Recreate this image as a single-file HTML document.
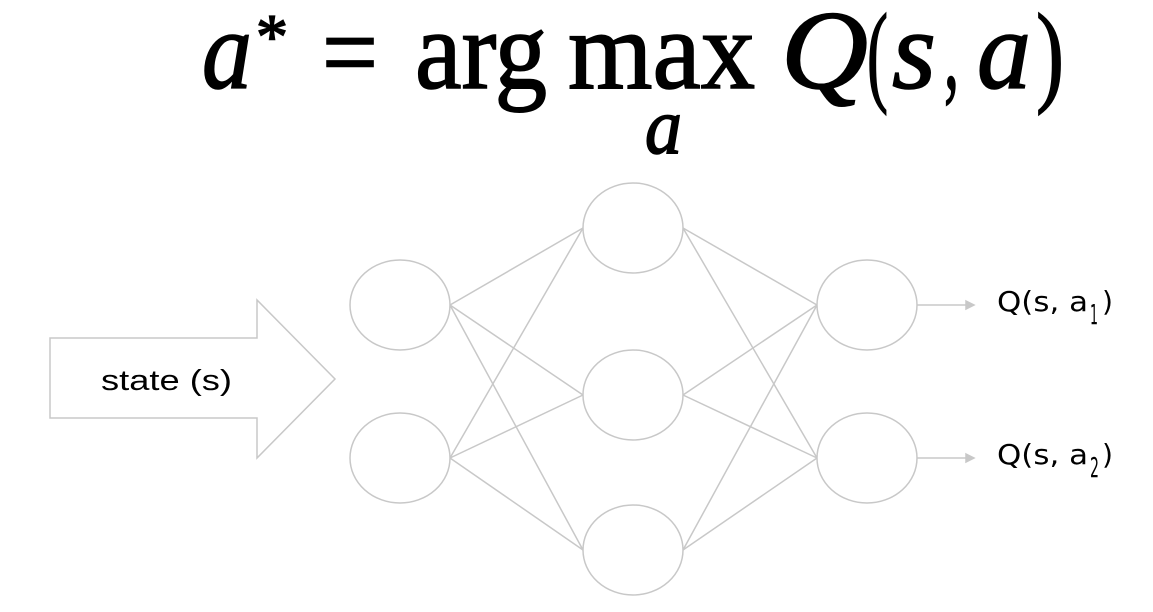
<!DOCTYPE html>
<html><head><meta charset="utf-8"><style>
html,body{margin:0;padding:0;background:#fff;}
svg{display:block;}
.f{font-family:"Liberation Serif",serif;fill:#000;stroke:#000;stroke-width:1.6;}
.s{font-family:"DejaVu Sans","Liberation Sans",sans-serif;fill:#000;font-size:28px;}
.st{font-family:"Liberation Sans",sans-serif;fill:#000;font-size:29px;}
</style></head><body>
<svg width="1153" height="612" viewBox="0 0 1153 612">
<g>
<text class="f" x="202" y="88" font-size="112" font-style="italic" textLength="50" lengthAdjust="spacingAndGlyphs">a</text>
<text class="f" x="256" y="58" font-size="64">*</text>
<text class="f" x="322" y="90" font-size="112" textLength="56" lengthAdjust="spacingAndGlyphs">=</text>
<text class="f" x="415" y="88" font-size="112" textLength="132" lengthAdjust="spacingAndGlyphs">arg</text>
<text class="f" x="568" y="88" font-size="112" textLength="187" lengthAdjust="spacingAndGlyphs">max</text>
<text class="f" x="645" y="153" font-size="80" font-style="italic" textLength="37" lengthAdjust="spacingAndGlyphs">a</text>
<text class="f" x="781" y="88" font-size="112" font-style="italic" textLength="87" lengthAdjust="spacingAndGlyphs">Q</text>
<text class="f" x="867" y="91" font-size="112" textLength="21" lengthAdjust="spacingAndGlyphs">(</text>
<text class="f" x="892" y="88" font-size="112" font-style="italic" textLength="44" lengthAdjust="spacingAndGlyphs">s</text>
<text class="f" x="944" y="88" font-size="112" textLength="15" lengthAdjust="spacingAndGlyphs">,</text>
<text class="f" x="977" y="88" font-size="112" font-style="italic" textLength="54" lengthAdjust="spacingAndGlyphs">a</text>
<text class="f" x="1036" y="91" font-size="112" textLength="28" lengthAdjust="spacingAndGlyphs">)</text>
</g>
<g stroke="#c8c8c8" stroke-width="1.5" fill="none">
<line x1="450" y1="305" x2="583" y2="228"/><line x1="450" y1="305" x2="583" y2="395"/><line x1="450" y1="305" x2="583" y2="550"/>
<line x1="450" y1="458" x2="583" y2="228"/><line x1="450" y1="458" x2="583" y2="395"/><line x1="450" y1="458" x2="583" y2="550"/>
<line x1="683" y1="228" x2="817" y2="305"/><line x1="683" y1="228" x2="817" y2="458"/>
<line x1="683" y1="395" x2="817" y2="305"/><line x1="683" y1="395" x2="817" y2="458"/>
<line x1="683" y1="550" x2="817" y2="305"/><line x1="683" y1="550" x2="817" y2="458"/>
</g>
<g stroke="#c8c8c8" stroke-width="1.5" fill="#fff">
<ellipse cx="400" cy="305" rx="50" ry="45"/>
<ellipse cx="400" cy="458" rx="50" ry="45"/>
<ellipse cx="633" cy="228" rx="50" ry="45"/>
<ellipse cx="633" cy="395" rx="50" ry="45"/>
<ellipse cx="633" cy="550" rx="50" ry="45"/>
<ellipse cx="867" cy="305" rx="50" ry="45"/>
<ellipse cx="867" cy="458" rx="50" ry="45"/>
</g>
<polygon points="50,338 257,338 257,300 335,379 257,458 257,418 50,418" fill="#fff" stroke="#c8c8c8" stroke-width="1.5"/>
<text class="st" x="101" y="390" textLength="131" lengthAdjust="spacingAndGlyphs">state (s)</text>
<g stroke="#c8c8c8" stroke-width="1.5" fill="#c8c8c8">
<line x1="917" y1="305" x2="966" y2="305"/>
<polygon points="966,301 974,305 966,309"/>
<line x1="917" y1="458" x2="966" y2="458"/>
<polygon points="966,454 974,458 966,462"/>
</g>
<g>
<text class="s" x="997" y="311" textLength="91" lengthAdjust="spacingAndGlyphs">Q(s, a</text>
<text class="s" x="1090" y="324" font-size="18" textLength="8" lengthAdjust="spacingAndGlyphs">1</text>
<text class="s" x="1102" y="311" textLength="11" lengthAdjust="spacingAndGlyphs">)</text>
</g>
<g>
<text class="s" x="997" y="464" textLength="91" lengthAdjust="spacingAndGlyphs">Q(s, a</text>
<text class="s" x="1090" y="477" font-size="18" textLength="9" lengthAdjust="spacingAndGlyphs">2</text>
<text class="s" x="1102" y="464" textLength="11" lengthAdjust="spacingAndGlyphs">)</text>
</g>
</svg>
</body></html>
